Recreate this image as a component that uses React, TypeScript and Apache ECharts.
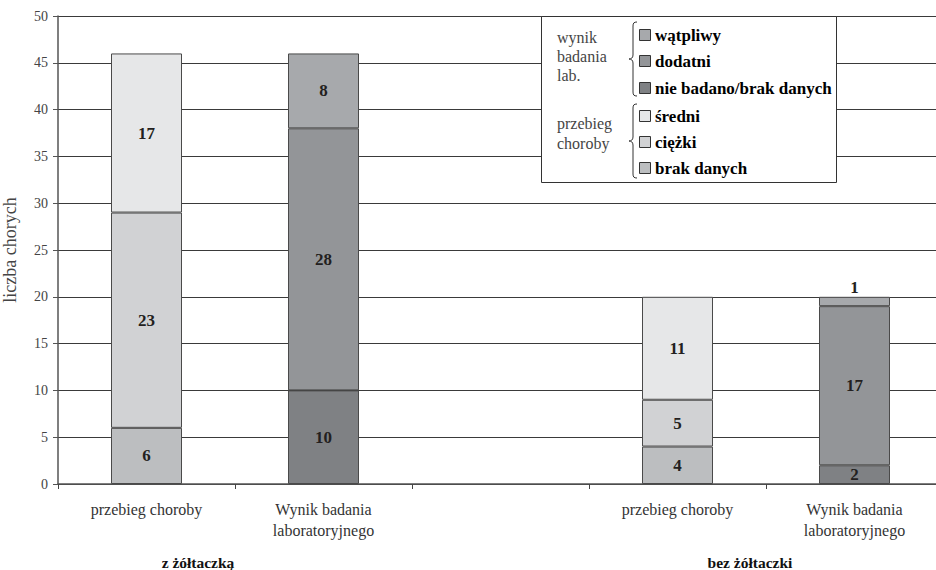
import React, { useEffect, useRef } from "react";
import * as echarts from "echarts";

const categories = [
  "przebieg choroby",
  "Wynik badania\nlaboratoryjnego",
  "",
  "przebieg choroby",
  "Wynik badania\nlaboratoryjnego",
];
const yTicks = { min: 0, max: 50, interval: 5 };

// przebieg choroby
const brakDanych = [6, null, null, 4, null];
const ciezki = [23, null, null, 5, null];
const sredni = [17, null, null, 11, null];
// wynik badania lab.
const nieBadano = [null, 10, null, null, 2];
const dodatni = [null, 28, null, null, 17];
const watpliwy = [null, 8, null, null, 1];

const groupLabels = ["z żółtaczką", "bez żółtaczki"];
const legendGroups = [
  { title: ["wynik", "badania", "lab."], items: ["wątpliwy", "dodatni", "nie badano/brak danych"] },
  { title: ["przebieg", "choroby"], items: ["średni", "ciężki", "brak danych"] },
];

const colors = {
  sredni: "#e6e7e8",
  ciezki: "#d1d2d4",
  brakDanych: "#bcbec0",
  watpliwy: "#a7a9ac",
  dodatni: "#939598",
  nieBadano: "#7f8184",
};

const SERIF = "Liberation Serif";

const braceD =
  "M8,0 C5,0 4,1 4,4 L4,33 C4,36 2,37 0,37 C2,37 4,38 4,41 L4,70 C4,73 5,74 8,74";

let registered = false;

export default function App() {
  const ref = useRef<HTMLDivElement>(null);
  useEffect(() => {
    if (!ref.current) return;
    if (!registered) {
      echarts.graphic.registerShape("brace", echarts.graphic.extendPath(braceD, {}));
      registered = true;
    }
    const chart = echarts.init(ref.current, null, { renderer: "svg" });

    const mk = (name: string, data: (number | null)[], color: string, topLabelFor?: number) => ({
      name,
      type: "bar",
      stack: "total",
      barWidth: 71,
      data: data.map((v, i) =>
        v === null
          ? null
          : topLabelFor === i
          ? { value: v, label: { position: "top", distance: 1 } }
          : v
      ),
      itemStyle: { color, borderColor: "#4a4a4a", borderWidth: 1 },
      label: {
        show: true,
        position: "inside",
        fontFamily: SERIF,
        fontWeight: "bold",
        fontSize: 17,
        color: "#231f20",
      },
    });

    const legendItemsY = [35, 61, 88, 116, 142, 168];
    const legendColors = [colors.watpliwy, colors.dodatni, colors.nieBadano, colors.sredni, colors.ciezki, colors.brakDanych];
    const graphics: any[] = [
      { type: "rect", shape: { x: 541.5, y: 16.5, width: 295, height: 166 }, style: { fill: "#fff", stroke: "#333", lineWidth: 1 }, z: 10 },
    ];
    const titleY = [[37, 56, 75], [123, 143]];
    legendGroups.forEach((g, gi) => {
      g.title.forEach((t, ti) => {
        graphics.push({
          type: "text",
          x: 557,
          y: titleY[gi][ti],
          z: 11,
          style: { text: t, fontFamily: SERIF, fontSize: 16, fill: "#444", verticalAlign: "middle" },
        });
      });
      g.items.forEach((it, ii) => {
        const idx = gi * 3 + ii;
        const y = legendItemsY[idx];
        graphics.push({
          type: "rect",
          z: 11,
          shape: { x: 639.5, y: y - 5.5, width: 11, height: 11 },
          style: { fill: legendColors[idx], stroke: "#333", lineWidth: 1 },
        });
        graphics.push({
          type: "text",
          x: 655,
          y,
          z: 11,
          style: { text: it, fontFamily: SERIF, fontWeight: "bold", fontSize: 17, fill: "#000", verticalAlign: "middle" },
        });
      });
    });
    graphics.push({ type: "brace", x: 629, y: 22, z: 11, style: { fill: "none", stroke: "#333", lineWidth: 1 } });
    graphics.push({ type: "brace", x: 629, y: 104, z: 11, style: { fill: "none", stroke: "#333", lineWidth: 1 } });
    const groupX = [198, 750];
    groupLabels.forEach((t, i) => {
      graphics.push({
        type: "text",
        x: groupX[i],
        y: 562,
        style: { text: t, fontFamily: SERIF, fontWeight: "bold", fontSize: 15.5, fill: "#111", align: "center", verticalAlign: "middle" },
      });
    });

    chart.setOption({
      animation: false,
      backgroundColor: "#fff",
      grid: { left: 58, top: 16, width: 885, height: 468, outerBoundsMode: "none", containLabel: false },
      xAxis: {
        type: "category",
        data: categories,
        axisLine: { lineStyle: { color: "#555", width: 1.5 } },
        axisTick: { show: true, length: 5, lineStyle: { color: "#444" } },
        axisLabel: { fontFamily: SERIF, fontSize: 16, color: "#333", margin: 15, lineHeight: 21, interval: 0 },
      },
      yAxis: {
        type: "value",
        min: yTicks.min,
        max: yTicks.max,
        interval: yTicks.interval,
        name: "liczba chorych",
        nameLocation: "middle",
        nameRotate: 90,
        nameGap: 39,
        nameTextStyle: { fontFamily: SERIF, fontSize: 18, color: "#444" },
        axisLine: { show: true, lineStyle: { color: "#555", width: 1.5 } },
        axisTick: { show: true, length: 5, lineStyle: { color: "#555" } },
        axisLabel: { fontFamily: SERIF, fontSize: 14, color: "#444", margin: 10 },
        splitLine: { show: true, lineStyle: { color: "#3a3a3a", width: 1 } },
      },
      series: [
        mk("brak danych", brakDanych, colors.brakDanych),
        mk("ciężki", ciezki, colors.ciezki),
        mk("średni", sredni, colors.sredni),
        mk("nie badano/brak danych", nieBadano, colors.nieBadano),
        mk("dodatni", dodatni, colors.dodatni),
        mk("wątpliwy", watpliwy, colors.watpliwy, 4),
      ],
      graphic: graphics,
    });
    return () => chart.dispose();
  }, []);
  return (
    <div
      ref={ref}
      style={{ position: "absolute", left: 0, top: 0, width: 936, height: 570 }}
    />
  );
}
